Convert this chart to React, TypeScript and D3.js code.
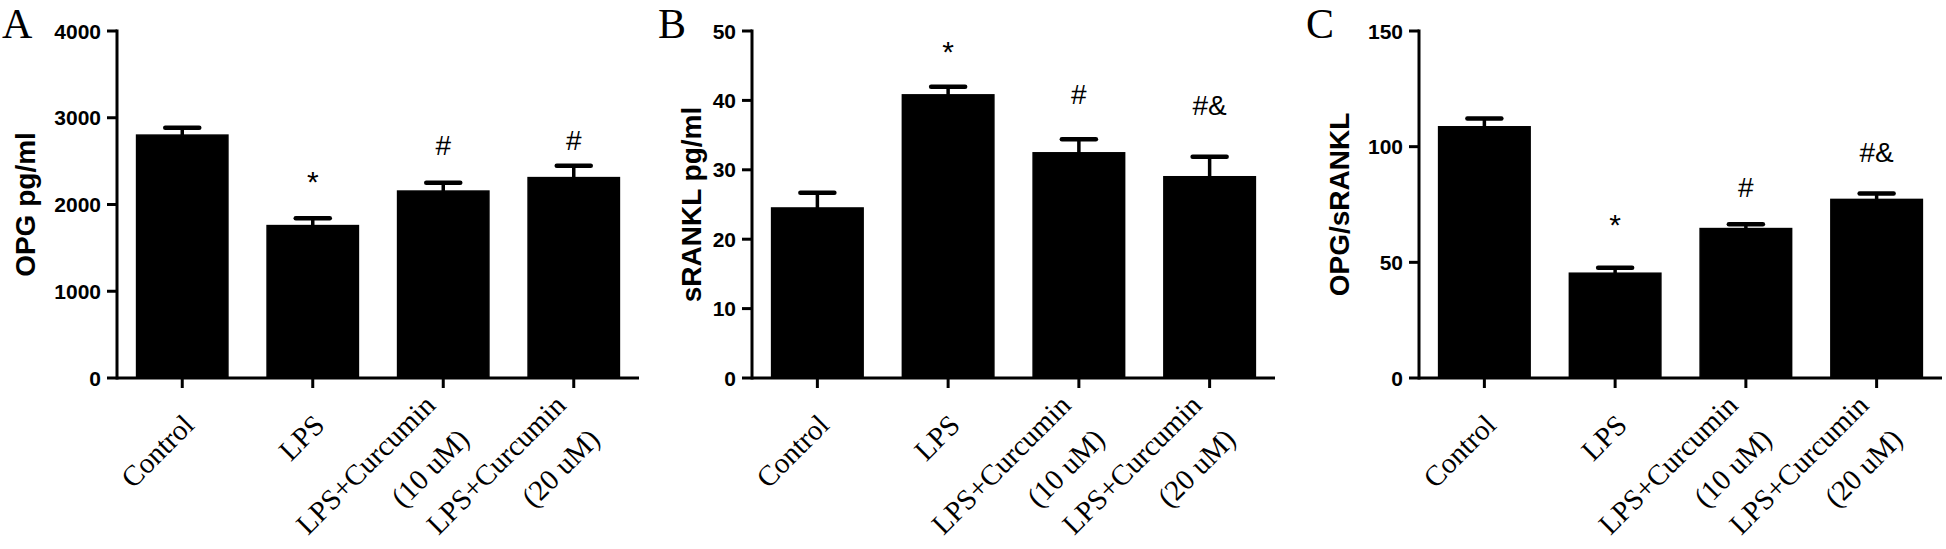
import React, { useEffect } from "react";
import * as d3 from "d3";

// ---------- data ----------
const categories = ["Control", "LPS", "LPS+Curcumin (10 uM)", "LPS+Curcumin (20 uM)"];
const categoryLines = [["Control"], ["LPS"], ["LPS+Curcumin", "(10 uM)"], ["LPS+Curcumin", "(20 uM)"]];

const opgMean = [2800, 1757, 2155, 2310];
const opgErr = [84, 84, 96, 138];
const opgTicks = [0, 1000, 2000, 3000, 4000];
const opgMarks = ["", "*", "#", "#"];
const opgMarkY = [0, 2146, 2573, 2631];

const rankMean = [24.5, 40.8, 32.45, 29.0];
const rankErr = [2.2, 1.15, 1.97, 2.88];
const rankTicks = [0, 10, 20, 30, 40, 50];
const rankMarks = ["", "*", "#", "#&"];
const rankMarkY = [0, 45.5, 39.5, 37.9];

const ratioMean = [108.6, 45.3, 64.6, 77.2];
const ratioErr = [3.6, 2.4, 1.9, 2.6];
const ratioTicks = [0, 50, 100, 150];
const ratioMarks = ["", "*", "#", "#&"];
const ratioMarkY = [0, 61.8, 78.3, 93.4];

// ---------- layout ----------
const W = 1946;
const H = 549;
const TOP = 31;
const BOTTOM = 378;
const SANS = "'Liberation Sans', Arial, Helvetica, sans-serif";
const SERIF = "'Liberation Serif', 'Times New Roman', Times, serif";

type PanelProps = {
  letter: string;
  letterX: number;
  x0: number;
  x1: number;
  yLabel: string;
  yLabelX: number;
  ticks: number[];
  means: number[];
  errs: number[];
  marks: string[];
  markY: number[];
};

function Panel(p: PanelProps) {
  const maxV = p.ticks[p.ticks.length - 1];
  const y = d3.scaleLinear().domain([0, maxV]).range([BOTTOM, TOP]);
  const x = d3
    .scaleBand<string>()
    .domain(categories)
    .range([p.x0, p.x1])
    .paddingInner(0.3)
    .paddingOuter(0.15);
  const bw = x.bandwidth();
  const capW = 34;
  const r2 = Math.SQRT1_2;
  const along = -25;
  const lh = 48;

  return (
    <g>
      <text x={p.letterX} y={38} fontFamily={SERIF} fontSize={42} fill="#000">
        {p.letter}
      </text>
      {/* y label */}
      <text
        transform={`translate(${p.yLabelX},${(TOP + BOTTOM) / 2}) rotate(-90)`}
        textAnchor="middle"
        fontFamily={SANS}
        fontWeight="bold"
        fontSize={28}
        fill="#000"
      >
        {p.yLabel}
      </text>
      {/* bars */}
      {categories.map((c, i) => {
        const bx = x(c) as number;
        const cx = bx + bw / 2;
        const top = y(p.means[i]);
        const capY = y(p.means[i] + p.errs[i]);
        return (
          <g key={c}>
            <line x1={cx} x2={cx} y1={top} y2={capY} stroke="#000" strokeWidth={3.5} />
            <line
              x1={cx - capW / 2}
              x2={cx + capW / 2}
              y1={capY}
              y2={capY}
              stroke="#000"
              strokeWidth={4.5}
              strokeLinecap="round"
            />
            <rect x={bx} y={top} width={bw} height={BOTTOM - top} fill="#000" stroke="#000" strokeWidth={1.5} />
          </g>
        );
      })}
      {/* annotations */}
      {categories.map((c, i) =>
        p.marks[i] ? (
          <text
            key={"m" + c}
            x={(x(c) as number) + bw / 2}
            y={y(p.markY[i])}
            textAnchor="middle"
            fontFamily={SANS}
            fontSize={p.marks[i] === "*" ? 30 : 28}
            fill="#000"
          >
            {p.marks[i]}
          </text>
        ) : null
      )}
      {/* y axis */}
      <line x1={p.x0} x2={p.x0} y1={y(maxV) - 1.5} y2={BOTTOM + 1.5} stroke="#000" strokeWidth={3} />
      {p.ticks.map((t) => (
        <g key={"t" + t}>
          <line x1={p.x0 - 10} x2={p.x0} y1={y(t)} y2={y(t)} stroke="#000" strokeWidth={3} />
          <text
            x={p.x0 - 16}
            y={y(t)}
            dy="0.36em"
            textAnchor="end"
            fontFamily={SANS}
            fontWeight="bold"
            fontSize={21}
            fill="#000"
          >
            {t}
          </text>
        </g>
      ))}
      {/* x axis */}
      <line x1={p.x0} x2={p.x1} y1={BOTTOM} y2={BOTTOM} stroke="#000" strokeWidth={3} />
      {categories.map((c, i) => {
        const tx = (x(c) as number) + bw / 2;
        const lines = categoryLines[i];
        const n = lines.length;
        const firstPerp = 44 - 28 * (n - 1);
        return (
          <g key={"x" + c}>
            <line x1={tx} x2={tx} y1={BOTTOM} y2={BOTTOM + 10} stroke="#000" strokeWidth={3} />
            {lines.map((ln, j) => {
              const pp = firstPerp + j * lh;
              const ex = tx + r2 * (along + pp);
              const ey = BOTTOM + r2 * (pp - along);
              return (
                <text
                  key={j}
                  transform={`translate(${ex},${ey}) rotate(-45)`}
                  textAnchor="end"
                  fontFamily={SERIF}
                  fontSize={29}
                  fill="#000"
                >
                  {ln}
                </text>
              );
            })}
          </g>
        );
      })}
    </g>
  );
}

export default function App() {
  useEffect(() => {
    document.body.style.margin = "0";
  }, []);
  return (
    <svg
      width={W}
      height={H}
      viewBox={`0 0 ${W} ${H}`}
      style={{ position: "absolute", left: 0, top: 0, background: "#fff", display: "block" }}
    >
      <rect x={0} y={0} width={W} height={H} fill="#fff" />
      <Panel
        letter="A"
        letterX={2}
        x0={117}
        x1={639}
        yLabel="OPG pg/ml"
        yLabelX={35}
        ticks={opgTicks}
        means={opgMean}
        errs={opgErr}
        marks={opgMarks}
        markY={opgMarkY}
      />
      <Panel
        letter="B"
        letterX={658}
        x0={752}
        x1={1275}
        yLabel="sRANKL pg/ml"
        yLabelX={701}
        ticks={rankTicks}
        means={rankMean}
        errs={rankErr}
        marks={rankMarks}
        markY={rankMarkY}
      />
      <Panel
        letter="C"
        letterX={1306}
        x0={1419}
        x1={1942}
        yLabel="OPG/sRANKL"
        yLabelX={1349}
        ticks={ratioTicks}
        means={ratioMean}
        errs={ratioErr}
        marks={ratioMarks}
        markY={ratioMarkY}
      />
    </svg>
  );
}
